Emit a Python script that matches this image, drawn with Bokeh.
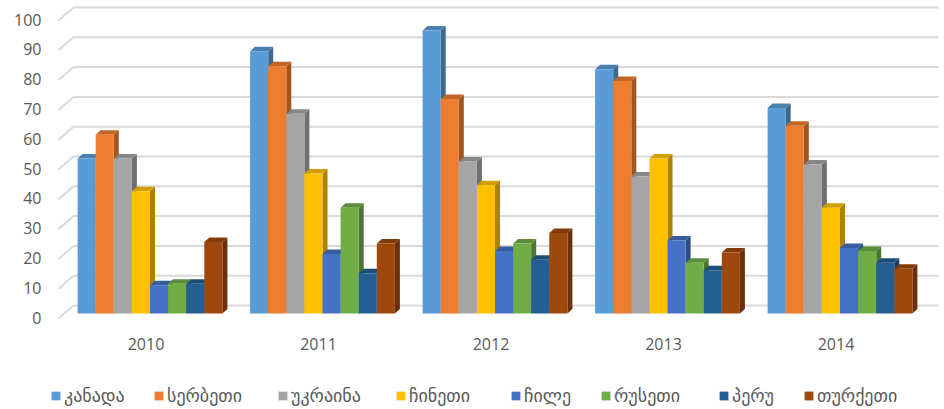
from bokeh.plotting import figure
from bokeh.models import Range1d, Legend, LegendItem
from bokeh.embed import file_html
from bokeh.resources import INLINE
from bokeh.core.properties import value

# ---------------- data ----------------
years = ["2010", "2011", "2012", "2013", "2014"]
countries = ["კანადა", "სერბეთი", "უკრაინა", "ჩინეთი", "ჩილე", "რუსეთი", "პერუ", "თურქეთი"]
canada = [52, 88, 95, 82, 69]
serbia = [60, 83, 72, 78, 63]
ukraine = [52, 67, 51, 46, 50]
china = [41, 47, 43, 52, 35.5]
chile = [9.5, 20, 21, 24.5, 22]
russia = [10, 35.5, 23.5, 17, 21]
peru = [10, 13.5, 18, 14.5, 17]
turkey = [24, 23.5, 27, 20.5, 15]
y_ticks = [0, 10, 20, 30, 40, 50, 60, 70, 80, 90, 100]
y_tick_labels = [str(t) for t in y_ticks]

series = [canada, serbia, ukraine, china, chile, russia, peru, turkey]
colors = ["#5B9BD5", "#ED7D31", "#A5A5A5", "#FFC000", "#4472C4", "#70AD47", "#255E91", "#9E480E"]

# ---------------- layout ----------------
W, H = 944, 409
PXX = 172.5   # px per category unit
PXY = 2.98    # px per value unit
X0 = 149.5    # pixel x of first category centre
Y0 = 313      # pixel y of value 0 (front face of bars)
x_start = -X0 / PXX
y_top = Y0 / PXY
x_rng = Range1d(x_start, x_start + W / PXX)
y_rng = Range1d(y_top - H / PXY, y_top)

def ux(px):
    return px / PXX

def uy(px):
    return px / PXY

def shade(hexc, f):
    h = hexc.lstrip("#")
    r, g, b = (int(h[i:i + 2], 16) for i in (0, 2, 4))
    return "#%02x%02x%02x" % (int(r * f), int(g * f), int(b * f))

p = figure(width=W, height=H, x_range=x_rng, y_range=y_rng,
           output_backend="svg", toolbar_location=None, min_border=0)
p.axis.visible = False
p.grid.visible = False
p.outline_line_color = None
p.background_fill_color = "white"
p.border_fill_color = "white"

# back wall grid + slanted left edges
wall_dx = ux(15)
wall_dy = uy(13)
front_x = ux(58 - X0)
back_x = front_x + wall_dx
front_lift = uy(-5)
gx0 = [back_x] * len(y_ticks)
gx1 = [x_rng.end - ux(6)] * len(y_ticks)
gy = [t + front_lift + wall_dy for t in y_ticks]
p.segment(x0=gx0, y0=gy, x1=gx1, y1=gy, line_color="#D9D9D9", line_width=2)
p.segment(x0=[front_x] * len(y_ticks), y0=[t + front_lift for t in y_ticks],
          x1=gx0, y1=gy, line_color="#D9D9D9", line_width=2)

# y labels
p.text(x=[ux(41 - X0)] * len(y_ticks), y=[t - uy(4) for t in y_ticks], text=y_tick_labels,
       text_align="right", text_baseline="middle", text_font=value("Open Sans"),
       text_font_size="16px", text_color="#595959")

# x labels
cats = list(range(len(years)))
p.text(x=[c - ux(4) for c in cats], y=[-uy(30)] * len(cats), text=years,
       text_align="center", text_baseline="middle", text_font=value("Open Sans"),
       text_font_size="16px", text_color="#595959")

# 3D bars
bw = ux(18.1)
ddx = ux(5)
ddy = uy(4.5)
front_renderers = []
for j, vals in enumerate(series):
    col = colors[j]
    lefts = [c + (j - 4) * bw for c in cats]
    rights = [l + bw for l in lefts]
    side_xs = [[r, r + ddx, r + ddx, r] for r in rights]
    side_ys = [[0, ddy, v + ddy, v] for v in vals]
    top_xs = [[l, r, r + ddx, l + ddx] for l, r in zip(lefts, rights)]
    top_ys = [[v, v, v + ddy, v + ddy] for v in vals]
    p.patches(xs=side_xs, ys=side_ys, fill_color=shade(col, 0.68), line_color=None)
    p.patches(xs=top_xs, ys=top_ys, fill_color=shade(col, 0.82), line_color=None)
    fr = p.quad(left=lefts, right=rights, bottom=[0] * len(vals), top=vals,
                fill_color=col, line_color=None)
    front_renderers.append(fr)

# legend (one per item, placed like the reference)
sq_left = [50, 153, 277, 395, 510, 600, 718, 803]
for j, name in enumerate(countries):
    lg = Legend(items=[LegendItem(label=name, renderers=[front_renderers[j]])],
                location=(sq_left[j], 3), orientation="horizontal",
                padding=0, margin=0, border_line_color=None, background_fill_alpha=0,
                glyph_width=11, glyph_height=11, label_standoff=3,
                label_text_font="DejaVu Sans", label_text_font_size="18px",
                label_text_color="#595959")
    p.add_layout(lg)

open("out.html", "w").write(file_html(p, INLINE))
